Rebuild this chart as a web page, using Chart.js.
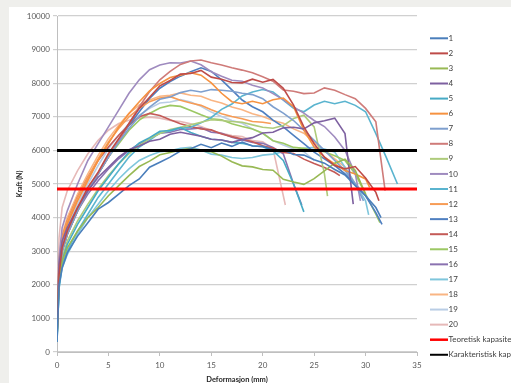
<!DOCTYPE html>
<html>
<head>
<meta charset="utf-8">
<script src="https://cdn.jsdelivr.net/npm/chart.js@4.4.0/dist/chart.umd.min.js"></script>
<style>
  html, body { margin: 0; padding: 0; background: #efefec; }
  #wrap { position: absolute; left: 9px; top: 7px; width: 502px; height: 376px; background: #fff; }
</style>
</head>
<body>
<div id="wrap"><canvas id="forceChart"></canvas></div>
<script>
// deformation grid (mm); the last value of each test sits at its break point instead
const strain = [0, 0.2, 0.5, 1, 2, 3, 4, 5, 6, 7, 8, 9, 10, 11, 12, 13, 14, 15, 16, 17, 18, 19, 20,
                21, 22, 23, 24, 25, 26, 27, 28, 29, 30, 31, 32, 33, 34];

// where each test stops (mm)
const breakAt = [31.5, 31.3, 30.0, 28.8, 24.0, 30.4, 29.8, 31.9, 26.3, 29.5,
                 33.1, 20.8, 31.6, 27.5, 31.4, 23.8, 30.3, 29.0, 25.0, 22.2];

// force (N) per test
const f1 = [300, 2000, 2500, 2950, 3450, 3850, 4250, 4450, 4700, 4950, 5150, 5500, 5650, 5800, 5980, 6050, 6180, 6080, 6220, 6120, 6250, 6130, 6120, 6020, 6010, 5880, 5860, 5720, 5620, 5430, 5270, 4950, 4650, 4300, 4000];
const f2 = [500, 2300, 3100, 3600, 4300, 4900, 5350, 5900, 6350, 6800, 7250, 7580, 7920, 8080, 8270, 8290, 8380, 8180, 8120, 8020, 8010, 8120, 8030, 8110, 7850, 7350, 6700, 6200, 5800, 5550, 5450, 5520, 5180, 4750, 4500];
const f3 = [400, 2200, 2700, 3100, 3600, 4000, 4300, 4650, 4950, 5250, 5520, 5680, 5870, 5940, 6010, 6060, 5980, 5960, 5830, 5660, 5540, 5510, 5430, 5410, 5140, 5060, 4990, 5160, 5390, 5620, 5740, 5400, 4700];
const f4 = [600, 2600, 3300, 3700, 4300, 4800, 5200, 5500, 5800, 6020, 6130, 6270, 6330, 6480, 6540, 6480, 6420, 6330, 6310, 6240, 6320, 6380, 6520, 6540, 6670, 6690, 6640, 6820, 6880, 6960, 6500, 4400];
const f5 = [300, 2000, 2700, 3200, 3800, 4300, 4800, 5200, 5600, 5950, 6220, 6380, 6570, 6590, 6680, 6530, 6420, 6330, 6310, 6240, 6210, 6140, 6110, 5990, 5700, 5000, 4170];
const f6 = [600, 2500, 3300, 3800, 4500, 5100, 5700, 6200, 6700, 7100, 7450, 7770, 7990, 8170, 8240, 8310, 8240, 8010, 7700, 7450, 7390, 7460, 7390, 7510, 7560, 7300, 6600, 6100, 5800, 5600, 5400, 5300, 5150, 4900];
const f7 = [500, 2300, 3000, 3500, 4200, 4800, 5300, 5800, 6250, 6650, 7020, 7290, 7520, 7590, 7720, 7790, 7740, 7810, 7790, 7760, 7700, 7660, 7540, 7300, 7110, 6890, 6600, 6300, 6000, 5700, 5400, 5000, 4500];
const f8 = [500, 2200, 3000, 3500, 4200, 4800, 5300, 5800, 6300, 6800, 7300, 7750, 8100, 8350, 8560, 8660, 8690, 8610, 8540, 8460, 8390, 8310, 8190, 8060, 7800, 7760, 7690, 7710, 7860, 7790, 7660, 7540, 7250, 6850, 4800];
const f9 = [400, 2100, 2800, 3300, 3900, 4400, 4850, 5250, 5600, 5900, 6150, 6350, 6500, 6620, 6690, 6760, 6840, 6910, 6890, 6860, 6840, 6760, 6690, 6660, 6740, 6950, 7050, 6700, 5300, 4640];
const f10 = [800, 2800, 3700, 4200, 5000, 5700, 6200, 6700, 7200, 7700, 8100, 8400, 8540, 8610, 8600, 8660, 8550, 8340, 8210, 8090, 8060, 7940, 7860, 7690, 7510, 7290, 7110, 6890, 6710, 6400, 6000, 5300, 4500];
const f11 = [400, 1900, 2600, 3000, 3600, 4100, 4600, 5000, 5400, 5800, 6100, 6300, 6520, 6580, 6670, 6690, 6820, 6980, 7220, 7380, 7620, 7740, 7810, 7740, 7500, 7250, 7150, 7350, 7460, 7390, 7460, 7340, 7150, 6500, 5800, 5000];
const f12 = [700, 2700, 3400, 3900, 4600, 5200, 5750, 6250, 6650, 7000, 7250, 7450, 7560, 7600, 7490, 7410, 7340, 7210, 7090, 7010, 6940, 6860, 6840, 6800];
const f13 = [400, 2300, 3000, 3500, 4200, 4800, 5300, 5800, 6300, 6750, 7150, 7550, 7850, 8050, 8210, 8340, 8460, 8350, 8100, 7800, 7500, 7300, 7150, 6900, 6700, 6450, 6200, 5950, 5750, 5550, 5300, 5000, 4650, 4150, 3800];
const f14 = [600, 2600, 3400, 3900, 4600, 5200, 5700, 6100, 6450, 6750, 7000, 7100, 7040, 6910, 6790, 6710, 6640, 6610, 6490, 6410, 6340, 6260, 6140, 6060, 5940, 5910, 5740, 5610, 5490, 5350, 5250];
const f15 = [400, 2400, 3000, 3500, 4200, 4800, 5300, 5800, 6200, 6600, 6900, 7100, 7260, 7340, 7310, 7190, 7060, 6940, 6910, 6790, 6710, 6640, 6510, 6290, 6210, 6090, 6060, 5990, 5960, 5840, 5700, 5300, 4700, 4100, 3850];
const f16 = [500, 2400, 3100, 3600, 4200, 4700, 5100, 5450, 5750, 6000, 6200, 6350, 6510, 6540, 6620, 6640, 6670, 6540, 6510, 6390, 6310, 6240, 6210, 6090, 5900, 5000, 4375];
const f17 = [300, 1900, 2500, 2900, 3500, 4000, 4400, 4800, 5150, 5450, 5700, 5850, 5960, 5990, 6060, 6090, 6010, 5890, 5860, 5790, 5760, 5790, 5860, 5890, 5960, 5990, 6060, 6090, 6040, 5950, 5500, 5000, 4500, 4080];
const f18 = [700, 2800, 3500, 4000, 4700, 5300, 5850, 6350, 6750, 7100, 7350, 7500, 7610, 7640, 7710, 7640, 7610, 7490, 7410, 7290, 7210, 7090, 7010, 6890, 6810, 6640, 6510, 6240, 6000, 5750, 5500, 5000];
const f19 = [500, 2400, 3200, 3700, 4400, 5000, 5550, 6050, 6450, 6800, 7050, 7250, 7410, 7440, 7510, 7440, 7310, 7140, 7010, 6890, 6810, 6640, 6510, 6290, 6160, 6040, 5960, 5700];
const f20 = [1000, 3400, 4300, 4800, 5400, 5900, 6300, 6600, 6800, 6900, 6960, 6990, 6960, 6890, 6860, 6790, 6710, 6590, 6510, 6440, 6410, 6290, 6260, 6050, 4375];

const tests = [f1, f2, f3, f4, f5, f6, f7, f8, f9, f10, f11, f12, f13, f14, f15, f16, f17, f18, f19, f20];
const testColors = ['#4a7ebb', '#be4b48', '#98b954', '#7d60a0', '#46aac5', '#f69240',
                    '#7e9fce', '#cf7b79', '#aecb7b', '#9f8bbf', '#5ab4cf', '#f79c56',
                    '#4f7fc0', '#c45a57', '#9cc864', '#8a72b0', '#7fc6dc', '#f9b583',
                    '#b9cde5', '#e6b9b8'];

// capacity levels (N)
const theoreticalCap = 4850;
const characteristicCap = 6000;

const xMax = 35;

function toPoints(forces, stop) {
    return forces.map((f, i) => ({
        x: i === forces.length - 1 ? stop : strain[i],
        y: f
    }));
}

const datasets = tests.map((forces, i) => ({
    label: String(i + 1),
    data: toPoints(forces, breakAt[i]),
    borderColor: testColors[i],
    borderWidth: 1.6,
    legendWidth: 2
}));

datasets.push({
    label: 'Teoretisk kapasitet',
    data: [{ x: 0, y: theoreticalCap }, { x: xMax, y: theoreticalCap }],
    borderColor: '#ff0000',
    borderWidth: 3,
    legendWidth: 2.5,
    order: -1
});
datasets.push({
    label: 'Karakteristisk kapasitet',
    data: [{ x: 0, y: characteristicCap }, { x: xMax, y: characteristicCap }],
    borderColor: '#000000',
    borderWidth: 3,
    legendWidth: 2,
    order: -1
});

// legend down the right margin, one row per dataset
const sideLegend = {
    id: 'sideLegend',
    afterDraw(chart) {
        const ctx = chart.ctx;
        ctx.save();
        ctx.font = '8px Lato';
        ctx.textBaseline = 'middle';
        chart.data.datasets.forEach((ds, i) => {
            const y = 31.3 + i * 15.07;
            ctx.strokeStyle = ds.borderColor;
            ctx.lineWidth = ds.legendWidth;
            ctx.beginPath();
            ctx.moveTo(421, y);
            ctx.lineTo(439, y);
            ctx.stroke();
            ctx.fillStyle = '#404040';
            ctx.fillText(ds.label, 439.5, y);
        });
        ctx.restore();
    }
};

Chart.defaults.font.family = 'Lato';
Chart.defaults.color = '#595959';

new Chart(document.getElementById('forceChart'), {
    type: 'scatter',
    data: { datasets },
    plugins: [sideLegend],
    options: {
        responsive: true,
        maintainAspectRatio: false,
        animation: false,
        showLine: true,
        elements: {
            point: { radius: 0 },
            line: { tension: 0, fill: false }
        },
        layout: { padding: { top: 9, right: 94, left: 0, bottom: 0 } },
        plugins: {
            legend: { display: false },
            tooltip: { enabled: false }
        },
        scales: {
            x: {
                type: 'linear',
                min: 0,
                max: xMax,
                ticks: { stepSize: 5, font: { size: 8 }, padding: 5, callback: v => String(v) },
                grid: { drawOnChartArea: false, tickLength: 4, color: '#bfbfbf' },
                border: { color: '#bfbfbf' },
                title: {
                    display: true,
                    text: 'Deformasjon (mm)',
                    font: { size: 7.5, weight: 'bold', lineHeight: 0.8 },
                    color: '#262626',
                    padding: { top: 0, bottom: 0 }
                },
                afterFit(scale) { scale.height = 31; }
            },
            y: {
                min: 0,
                max: 10000,
                ticks: { stepSize: 1000, font: { size: 8 }, padding: 3, callback: v => String(v) },
                grid: { color: '#d0d0d0', tickLength: 4, lineWidth: 1.2 },
                border: { color: '#bfbfbf' },
                title: {
                    display: true,
                    text: 'Kraft (N)',
                    font: { size: 7, weight: 'bold' },
                    color: '#262626',
                    padding: { top: 7, bottom: 0 }
                },
                afterFit(scale) { scale.width = 48; }
            }
        }
    }
});
</script>
</body>
</html>
